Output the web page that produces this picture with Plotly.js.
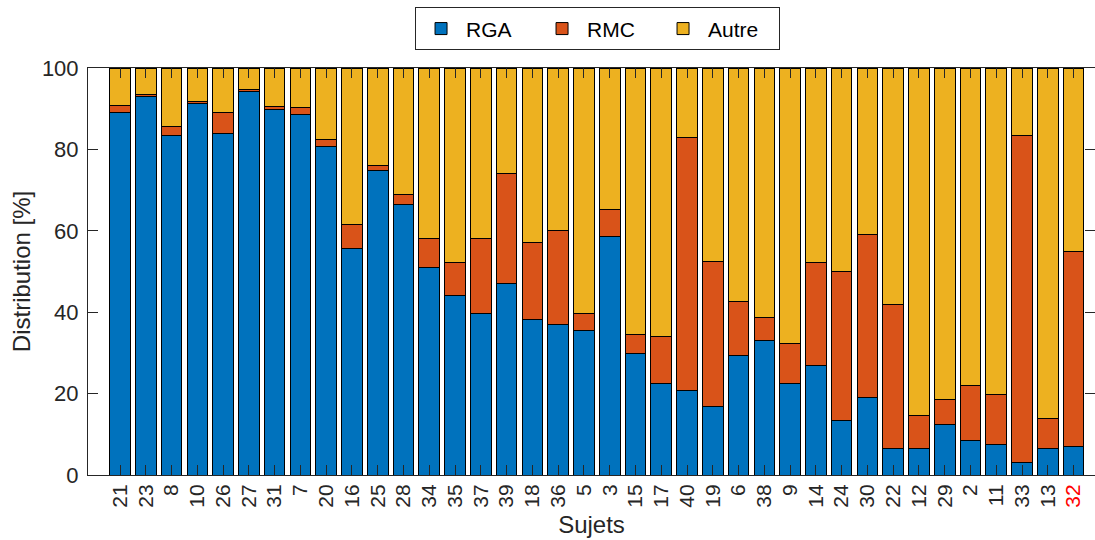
<!DOCTYPE html>
<html>
<head>
<meta charset="utf-8">
<script src="https://cdn.plot.ly/plotly-3.0.1.min.js"></script>
<style>html,body{margin:0;padding:0;background:#fff;} #chart{width:1095px;height:540px;}</style>
</head>
<body>
<div id="chart"></div>
<script>
const subjects = ['21','23','8','10','26','27','31','7','20','16','25','28','34','35','37','39','18','36','5','3','15','17','40','19','6','38','9','14','24','30','22','12','29','2','11','33','13','32'];
const rga   = [89.1,93.0,83.5,91.2,84.0,94.3,89.9,88.5,80.8,55.7,74.9,66.4,51.1,44.2,39.7,47.0,38.2,36.9,35.4,58.5,29.8,22.4,20.8,16.8,29.4,33.1,22.5,26.9,13.3,19.0,6.5,6.6,12.5,8.6,7.4,3.0,6.5,6.9];
const rmc   = [1.8,0.5,2.2,0.5,5.0,0.5,0.7,1.8,1.7,5.9,1.2,2.5,7.1,8.1,18.5,27.2,18.9,23.2,4.2,6.8,4.8,11.6,62.2,35.7,13.3,5.7,9.8,25.2,36.7,40.2,35.4,8.0,6.1,13.5,12.4,80.3,7.4,48.0];
const autre = [9.1,6.5,14.3,8.3,11.0,5.2,9.4,9.7,17.5,38.4,23.9,31.1,41.8,47.7,41.8,25.8,42.9,39.9,60.4,34.7,65.4,66.0,17.0,47.5,57.3,61.2,67.7,47.9,50.0,40.8,58.1,85.4,81.4,77.9,80.2,16.7,86.1,45.1];
const highlighted = ['32'];
const seriesNames = ['RGA','RMC','Autre'];
const colors = ['#0072BD','#D95319','#EDB120'];

const tickText = subjects.map(s => highlighted.includes(s) ? '<span style="color:#FF0000">' + s + '</span>' : s);
const FONT = 'Liberation Sans, Arial, Helvetica, sans-serif';
const INK = '#262626';

const values = [rga, rmc, autre];
const traces = values.map((v, i) => ({
  type: 'bar',
  name: seriesNames[i],
  x: subjects,
  y: v,
  width: 0.8,
  marker: {color: colors[i], line: {color: '#000000', width: 1}},
  hoverinfo: 'x+y+name'
}));

const layout = {
  width: 1095, height: 540,
  margin: {l: 88, r: 0, t: 68, b: 65, pad: 0},
  barmode: 'stack',
  bargap: 0.2,
  paper_bgcolor: '#ffffff',
  plot_bgcolor: '#ffffff',
  font: {family: FONT, color: INK, size: 22},
  showlegend: true,
  legend: {
    orientation: 'h',
    x: 0.506, xanchor: 'center',
    y: 1.096, yanchor: 'middle',
    bordercolor: INK, borderwidth: 1,
    font: {family: FONT, size: 21, color: '#000000'},
    itemwidth: 40,
    entrywidth: 66, entrywidthmode: 'pixels',
    traceorder: 'normal',
    tracegroupgap: 0
  },
  xaxis: {
    type: 'category',
    range: [-1.242, 37.83],
    tickmode: 'array',
    tickvals: subjects,
    ticktext: tickText,
    tickangle: -90,
    ticks: 'inside', ticklen: 10, tickwidth: 1, tickcolor: INK,
    showline: true, linecolor: INK, linewidth: 1, mirror: 'allticks',
    showgrid: false, zeroline: false,
    tickfont: {family: FONT, size: 21, color: INK},
    title: {text: 'Sujets', font: {family: FONT, size: 24, color: INK}, standoff: 9},
    automargin: false
  },
  yaxis: {
    range: [0, 100],
    tickmode: 'array',
    tickvals: [0, 20, 40, 60, 80, 100],
    ticks: 'inside', ticklen: 10, tickwidth: 1, tickcolor: INK,
    showline: true, linecolor: INK, linewidth: 1, mirror: 'allticks',
    showgrid: false, zeroline: false,
    tickfont: {family: FONT, size: 22, color: INK},
    ticklabelstandoff: 4,
    title: {text: 'Distribution [%]', font: {family: FONT, size: 24, color: INK}, standoff: 4},
    automargin: false
  }
};

Plotly.newPlot('chart', traces, layout, {displayModeBar: false, staticPlot: true});
</script>
</body>
</html>
